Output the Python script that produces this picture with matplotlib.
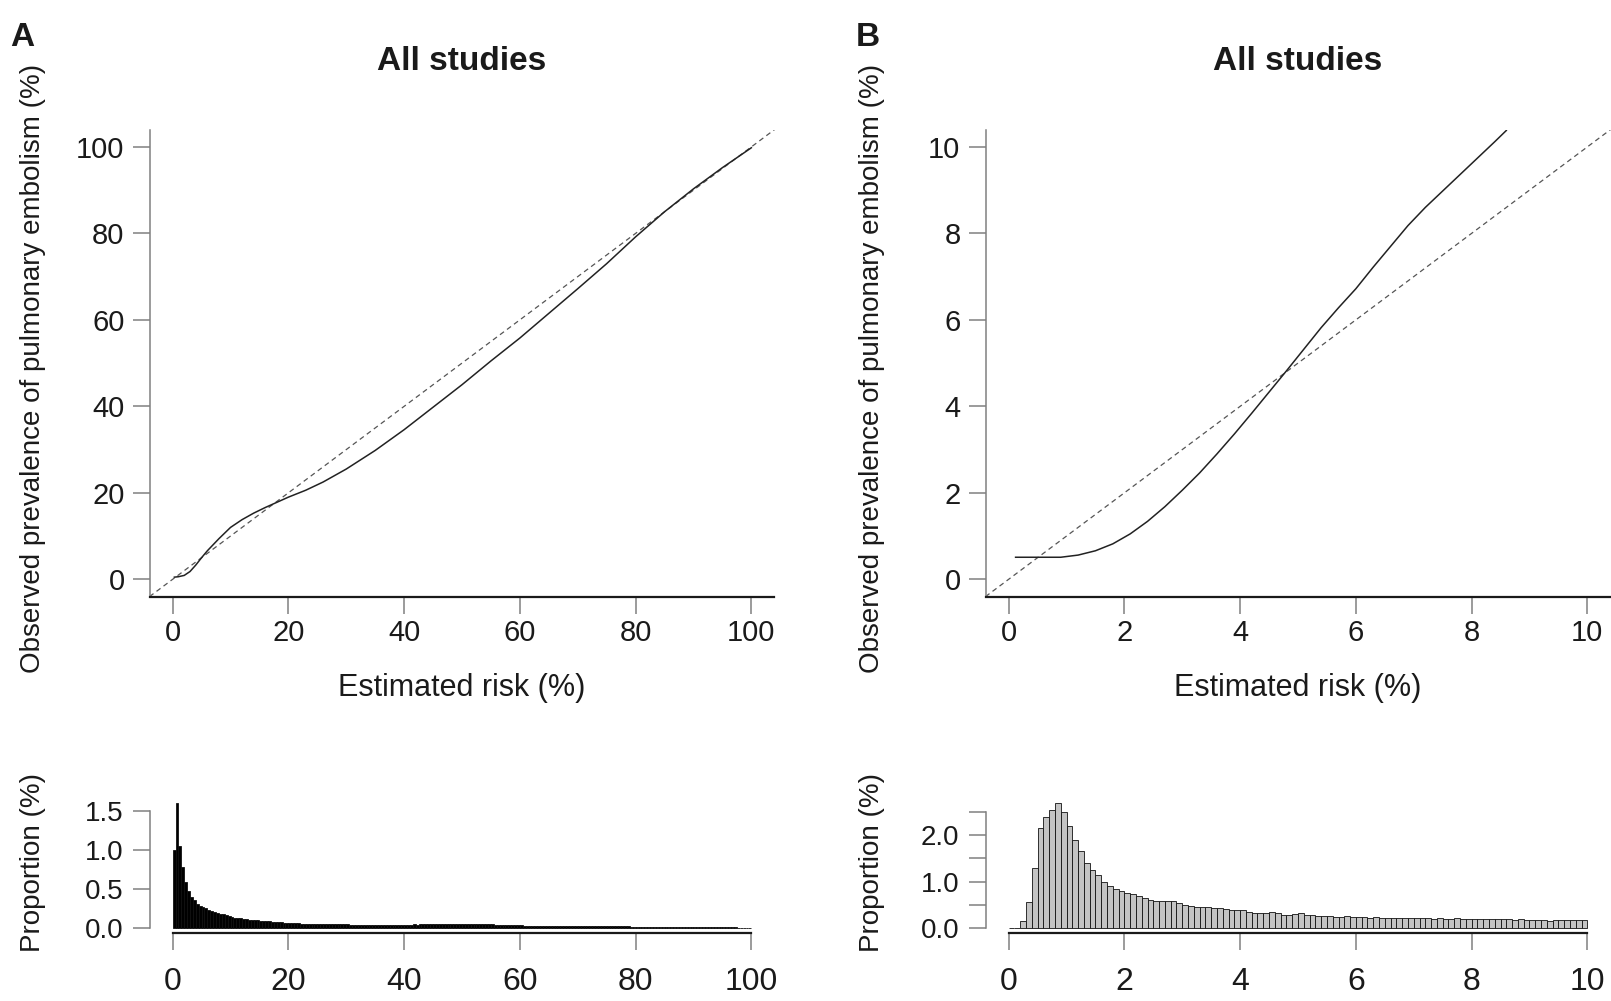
import matplotlib
matplotlib.use('Agg')
import matplotlib.pyplot as plt
import numpy as np

plt.rcParams['font.family'] = ['Liberation Sans', 'DejaVu Sans']

# calibration curve, all risks (%)
risk_all = [0.3, 1, 2, 3, 4, 5, 6, 8, 10, 12, 14, 16, 18, 20, 23, 26, 30, 35,
            40, 45, 50, 55, 60, 65, 70, 75, 80, 85, 90, 95, 100]
obs_all = [0.5, 0.6, 0.9, 1.8, 3.3, 5.0, 6.6, 9.4, 12.0, 13.8, 15.3, 16.6, 17.8,
           19.0, 20.6, 22.5, 25.5, 29.8, 34.6, 39.8, 45.0, 50.5, 55.8, 61.5,
           67.2, 73.0, 79.2, 85.0, 90.3, 95.2, 99.8]

# calibration curve, low risk range (%)
risk_low = [0.12, 0.4, 0.9, 1.2, 1.5, 1.8, 2.1, 2.4, 2.7, 3.0, 3.3, 3.6, 3.9,
            4.2, 4.5, 4.8, 5.1, 5.4, 5.7, 6.0, 6.3, 6.6, 6.9, 7.2, 7.5, 7.8,
            8.1, 8.4, 8.6]
obs_low = [0.51, 0.51, 0.51, 0.56, 0.66, 0.82, 1.05, 1.34, 1.68, 2.06, 2.46,
           2.90, 3.36, 3.84, 4.33, 4.82, 5.32, 5.82, 6.28, 6.72, 7.22, 7.70,
           8.18, 8.60, 8.98, 9.36, 9.74, 10.12, 10.38]

# distribution of estimated risk, 0.5% bins from 0 to 100
bin_all = 0.5
prop_all = [
    1.00, 1.60, 1.05, 0.78, 0.58, 0.47, 0.40, 0.35, 0.31, 0.28,
    0.27, 0.25, 0.23, 0.21, 0.20, 0.19, 0.18, 0.17, 0.16, 0.15,
    0.14, 0.13, 0.125, 0.12, 0.115, 0.11, 0.105, 0.10, 0.10, 0.095,
    0.09, 0.088, 0.085, 0.08, 0.078, 0.075, 0.07, 0.068, 0.065, 0.062,
    0.06, 0.058, 0.056, 0.055, 0.054, 0.052, 0.051, 0.05, 0.05, 0.049,
    0.052, 0.048, 0.047, 0.046, 0.046, 0.045, 0.044, 0.044, 0.043, 0.042,
    0.042, 0.041, 0.041, 0.040, 0.040, 0.041, 0.039, 0.040, 0.039, 0.038,
    0.039, 0.038, 0.038, 0.039, 0.037, 0.038, 0.039, 0.038, 0.040, 0.039,
    0.040, 0.041, 0.040, 0.042, 0.041, 0.042, 0.043, 0.042, 0.044, 0.043,
    0.044, 0.045, 0.044, 0.046, 0.045, 0.047, 0.046, 0.048, 0.047, 0.048,
    0.049, 0.048, 0.050, 0.049, 0.048, 0.049, 0.047, 0.046, 0.045, 0.044,
    0.043, 0.041, 0.040, 0.038, 0.037, 0.035, 0.034, 0.033, 0.031, 0.030,
    0.029, 0.028, 0.027, 0.026, 0.025, 0.024, 0.024, 0.023, 0.022, 0.022,
    0.021, 0.021, 0.020, 0.020, 0.019, 0.019, 0.018, 0.019, 0.018, 0.018,
    0.018, 0.017, 0.018, 0.017, 0.018, 0.018, 0.017, 0.019, 0.018, 0.019,
    0.019, 0.020, 0.019, 0.020, 0.021, 0.019, 0.018, 0.016, 0.014, 0.012,
    0.011, 0.010, 0.010, 0.009, 0.009, 0.008, 0.008, 0.008, 0.007, 0.007,
    0.007, 0.006, 0.006, 0.006, 0.006, 0.005, 0.005, 0.005, 0.005, 0.005,
    0.005, 0.004, 0.004, 0.004, 0.004, 0.004, 0.004, 0.003, 0.003, 0.003,
    0.003, 0.003, 0.003, 0.003, 0.003, 0.002, 0.002, 0.002, 0.002, 0.002,
]

# distribution of estimated risk, 0.1% bins from 0 to 10
bin_low = 0.1
prop_low = [
    0.0, 0.0, 0.15, 0.55, 1.30, 2.15, 2.40, 2.55, 2.70, 2.50,
    2.20, 1.90, 1.65, 1.40, 1.25, 1.15, 1.00, 0.90, 0.84, 0.79,
    0.76, 0.72, 0.68, 0.64, 0.61, 0.58, 0.57, 0.57, 0.57, 0.53,
    0.50, 0.46, 0.44, 0.44, 0.45, 0.43, 0.42, 0.40, 0.39, 0.38,
    0.38, 0.33, 0.32, 0.32, 0.32, 0.33, 0.32, 0.28, 0.27, 0.30,
    0.31, 0.28, 0.28, 0.26, 0.26, 0.25, 0.24, 0.24, 0.25, 0.24,
    0.23, 0.23, 0.22, 0.23, 0.22, 0.22, 0.21, 0.22, 0.21, 0.20,
    0.20, 0.21, 0.20, 0.19, 0.20, 0.19, 0.19, 0.20, 0.19, 0.19,
    0.19, 0.18, 0.19, 0.18, 0.18, 0.19, 0.18, 0.17, 0.18, 0.17,
    0.16, 0.17, 0.16, 0.15, 0.17, 0.17, 0.16, 0.17, 0.16, 0.16,
]

W, H = 1611, 1001
fig = plt.figure(figsize=(W / 100, H / 100), dpi=100)

GREY = '#808080'
INK = '#1a1a1a'


def add_ax(x0, y0, x1, y1):
    # axes placed by pixel box (left, top, right, bottom)
    return fig.add_axes([x0 / W, 1 - y1 / H, (x1 - x0) / W, (y1 - y0) / H])


def style(ax, tick_size, pad):
    for s in ('top', 'right'):
        ax.spines[s].set_visible(False)
    ax.spines['left'].set_color(GREY)
    ax.spines['left'].set_linewidth(1.1)
    ax.spines['bottom'].set_color(INK)
    ax.spines['bottom'].set_linewidth(1.6)
    ax.tick_params(direction='out', length=12, width=1.1, color=GREY,
                   labelcolor=INK, labelsize=tick_size, pad=pad)


def calib(ax, x, y, lim, ticks):
    ax.axline((0, 0), slope=1, color='#555555', lw=0.9, ls=(0, (4, 3)))
    ax.plot(x, y, color='#222222', lw=1.1)
    ax.set_xlim(*lim)
    ax.set_ylim(*lim)
    ax.set_xticks(ticks)
    ax.set_yticks(ticks)
    style(ax, 21, 6)
    ax.tick_params(axis='x', pad=4)


def hist(ax, props, width, xmax, color, ymax, yticks, ylabels):
    lefts = np.arange(len(props)) * width
    ax.bar(lefts, props, width=width, align='edge', color=color,
           edgecolor='#111111', lw=0.6)
    ax.set_xlim(-0.04 * xmax, 1.04 * xmax)
    ax.set_ylim(-0.04 * ymax, 1.04 * ymax)
    ax.set_xticks(np.linspace(0, xmax, 6))
    ax.set_xticklabels([f'{v:g}' for v in np.linspace(0, xmax, 6)])
    ax.set_yticks(yticks)
    ax.set_yticklabels(ylabels)
    style(ax, 20, 7)
    ax.tick_params(axis='x', labelsize=23, pad=13)
    ax.spines['left'].set_bounds(yticks[0], yticks[-1])
    ax.spines['bottom'].set_bounds(0, xmax)


# panel A
ax_a = add_ax(149.5, 129.6, 774.5, 596.6)
calib(ax_a, risk_all, obs_all, (-4, 104), [0, 20, 40, 60, 80, 100])
hax_a = add_ax(149.5, 798, 774.5, 932.7)
hist(hax_a, prop_all, bin_all, 100, 'black', 1.6,
     [0, 0.5, 1.0, 1.5], ['0.0', '0.5', '1.0', '1.5'])

# panel B
ax_b = add_ax(985.5, 129.6, 1610.5, 596.6)
calib(ax_b, risk_low, obs_low, (-0.4, 10.4), [0, 2, 4, 6, 8, 10])
hax_b = add_ax(985.5, 798, 1610.5, 932.7)
hist(hax_b, prop_low, bin_low, 10, '#c4c4c4', 2.7,
     [0, 0.5, 1.0, 1.5, 2.0, 2.5], ['0.0', '', '1.0', '', '2.0', ''])

ylab = 'Observed prevalence of pulmonary embolism (%)'
for letter, lx, cx, yx in (('A', 10, 462, 33), ('B', 856, 1298, 872)):
    fig.text(lx / W, 1 - 38 / H, letter, fontsize=24, fontweight='bold',
             ha='left', va='center', color=INK)
    fig.text(cx / W, 1 - 62 / H, 'All studies', fontsize=24,
             fontweight='bold', ha='center', va='center', color=INK)
    fig.text(cx / W, 1 - 688 / H, 'Estimated risk (%)', fontsize=22,
             ha='center', va='center', color=INK)
    fig.text(yx / W, 1 - 368 / H, ylab, fontsize=20, rotation=90,
             ha='center', va='center', color=INK)
    fig.text(yx / W, 1 - 863 / H, 'Proportion (%)', fontsize=20,
             rotation=90, ha='center', va='center', color=INK)

fig.savefig('out.png', dpi=100, facecolor='white')
